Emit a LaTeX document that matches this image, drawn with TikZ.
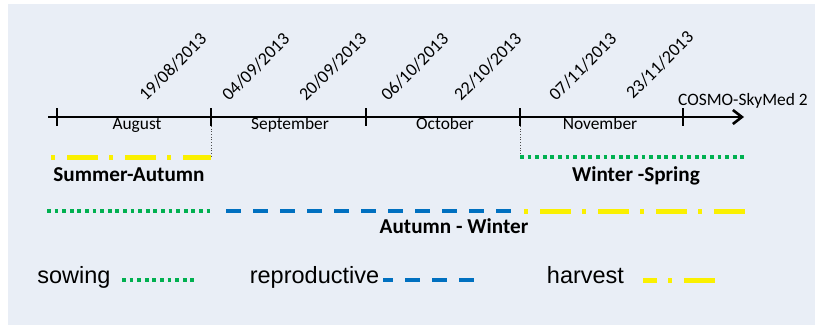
\documentclass[tikz,border=0pt]{standalone}
\usepackage{fontspec}
\setmainfont{Carlito}
\newfontfamily\legendfont{Liberation Sans}
\usetikzlibrary{arrows.meta}
\definecolor{bgc}{RGB}{233,238,246}
\definecolor{ylw}{RGB}{250,240,0}
\definecolor{grn}{RGB}{0,176,80}
\definecolor{blu}{RGB}{0,112,192}
\begin{document}
\begin{tikzpicture}[x=1pt,y=-1pt,
  datelbl/.style={rotate=45,anchor=base west,inner sep=0pt,font=\fontsize{18}{18}\selectfont},
  monthlbl/.style={anchor=base,inner sep=0pt,font=\fontsize{17.4}{18}\selectfont},
  seasonlbl/.style={anchor=base,inner sep=0pt,font=\fontsize{21.2}{22}\selectfont\bfseries},
  legendlbl/.style={anchor=base,inner sep=0pt,font=\legendfont\fontsize{23.5}{24}\selectfont},
  axisline/.style={line width=2.6pt,-{Straight Barb[length=9pt,width=14pt,line width=2.6pt]}},
  tickmark/.style={line width=2.4pt},
  guide/.style={black!70,line width=0.7pt,dotted},
  sowline/.style={grn,line width=4pt,dash pattern=on 3.8pt off 3.8pt},
  repline/.style={blu,line width=4.5pt,dash pattern=on 15pt off 12pt},
  harvline/.style={ylw,line width=5pt,dash pattern=on 4pt off 12pt on 31pt off 11pt}
]
\useasboundingbox (0,0) rectangle (815,329);
\fill[bgc] (8,4) rectangle (815,325);

% axis
\coordinate (a0) at (48,117);
\coordinate (a1) at (744,117);
\draw[axisline] (a0) -- (a1);
\foreach \n/\x in {1/57,2/211,3/366,4/520,5/683}{
  \coordinate (t\n) at (\x,117);
  \draw[tickmark] ([yshift=-9pt]t\n) -- ([yshift=9pt]t\n);
}

% dates
\node[datelbl] (d1) at (146,102) {19/08/2013};
\node[datelbl] (d2) at (229,102) {04/09/2013};
\node[datelbl] (d3) at (306,102) {20/09/2013};
\node[datelbl] (d4) at (388,102) {06/10/2013};
\node[datelbl] (d5) at (461,102) {22/10/2013};
\node[datelbl] (d6) at (556,102) {07/11/2013};
\node[datelbl] (d7) at (633,100) {23/11/2013};
\node[anchor=base west,inner sep=0pt,font=\fontsize{17.4}{18}\selectfont] (cosmo) at (678,106) {COSMO-SkyMed 2};

% months
\node[monthlbl] (m1) at (137,130) {August};
\node[monthlbl] (m2) at (290,130) {September};
\node[monthlbl] (m3) at (445,130) {October};
\node[monthlbl] (m4) at (600,130) {November};

% guides
\coordinate (g1) at (211,157);
\coordinate (g2) at (520,157);
\draw[guide] ([yshift=-9pt]t2) -- (g1);
\draw[guide] ([yshift=-9pt]t4) -- (g2);

% row 1
\coordinate (sa0) at (51,157);
\draw[harvline] (sa0) -- (g1);
\coordinate (ws1) at (744,157);
\draw[sowline] (g2) -- (ws1);
\node[seasonlbl] (sa) at (129,182) {Summer-Autumn};
\node[seasonlbl] (ws) at (636,182) {Winter -Spring};

% row 2
\coordinate (r0) at (47,211);
\coordinate (r1) at (214,211);
\coordinate (r2) at (226,211);
\coordinate (r3) at (513,211);
\coordinate (r4) at (524,211);
\coordinate (r5) at (747,211);
\draw[sowline] (r0) -- (r1);
\draw[repline] (r2) -- (r3);
\draw[harvline] (r4) -- (r5);
\node[seasonlbl] (aw) at (454,233) {Autumn - Winter};

% legend
\node[legendlbl] (lsow) at (74,283) {sowing};
\node[legendlbl] (lrep) at (314.5,283) {reproductive};
\node[legendlbl] (lhar) at (585.5,283) {harvest};
\coordinate (ls0) at (122,280);
\coordinate (ls1) at (196,280);
\coordinate (lr0) at (383,280);
\coordinate (lr1) at (475,280);
\coordinate (lh0) at (643,280);
\coordinate (lh1) at (715,280);
\draw[sowline] (ls0) -- (ls1);
\draw[repline,dash phase=5pt] (lr0) -- (lr1);
\draw[harvline,dash phase=33pt] (lh0) -- (lh1);
\end{tikzpicture}
\end{document}
